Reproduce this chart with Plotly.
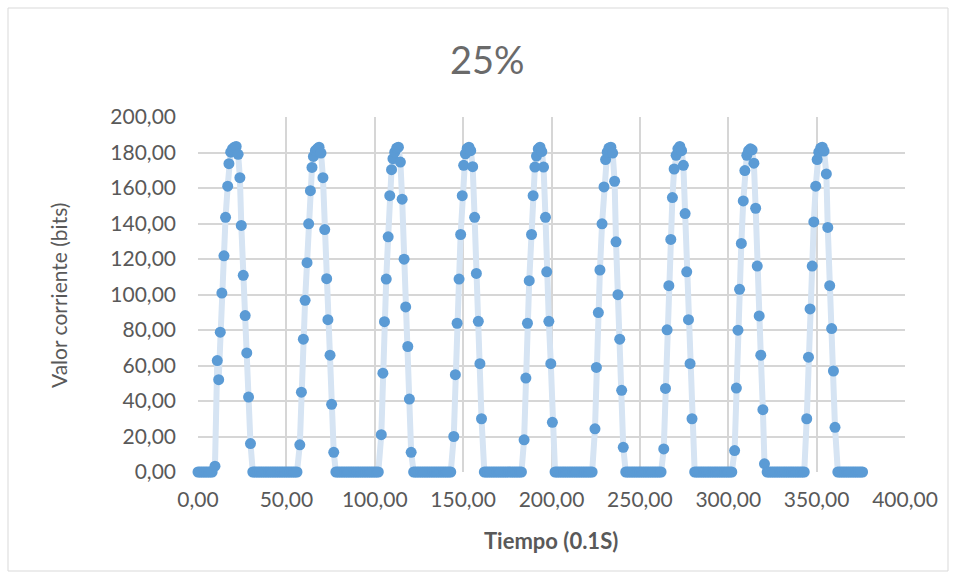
import plotly.graph_objects as go

# Ciclo 1: reposo inicial + primer pulso
t1 = [0, 1, 2, 3, 4, 5, 6, 7, 8,
      9.6, 10.9, 11.7, 12.6, 13.5, 14.7, 15.6, 16.8, 17.5, 18.5, 19.5,
      20.6, 21.6, 22.7, 23.7, 24.5, 25.6, 26.7, 27.6, 28.6, 29.7]
v1 = [0, 0, 0, 0, 0, 0, 0, 0, 0,
      3.3, 62.8, 52.0, 78.8, 100.8, 121.8, 143.5, 161.0, 173.7, 180.2, 182.0,
      183.0, 183.4, 179.0, 165.8, 138.9, 110.8, 88.1, 67.1, 42.2, 16.0]

# Ciclo 2
t2 = [31, 32, 33, 34, 35, 36, 37, 38, 39, 40, 41, 42, 43, 44, 45, 46, 47, 48,
      49, 50, 51, 52, 53, 54, 55, 56,
      57.6, 58.5, 59.6, 60.6, 61.7, 62.6, 63.6, 64.5, 65.3, 66.4,
      67.4, 68.5, 69.6, 70.7, 71.7, 72.8, 73.5, 74.7, 75.6, 76.8]
v2 = [0, 0, 0, 0, 0, 0, 0, 0, 0, 0, 0, 0, 0, 0, 0, 0, 0, 0,
      0, 0, 0, 0, 0, 0, 0, 0,
      15.3, 45.0, 74.8, 96.7, 117.9, 139.8, 158.5, 171.6, 177.8, 181.0,
      182.1, 183.0, 179.7, 165.8, 136.6, 108.9, 85.8, 65.8, 38.1, 11.1]

# Ciclo 3
t3 = [78, 79, 80, 81, 82, 83, 84, 85, 86, 87, 88, 89, 90, 91, 92, 93, 94, 95,
      96, 97, 98, 99, 100, 101, 102,
      103.7, 104.6, 105.5, 106.5, 107.6, 108.5, 109.5, 110.3, 111.3,
      112.4, 113.4, 114.5, 115.5, 116.6, 117.5, 118.7, 119.6, 120.6]
v3 = [0, 0, 0, 0, 0, 0, 0, 0, 0, 0, 0, 0, 0, 0, 0, 0, 0, 0,
      0, 0, 0, 0, 0, 0, 0,
      21.0, 55.7, 84.7, 108.7, 132.5, 155.7, 170.3, 176.5, 180.2,
      182.5, 183.0, 174.6, 153.7, 119.9, 93.0, 70.7, 41.1, 11.1]

# Ciclo 4
t4 = [122, 123, 124, 125, 126, 127, 128, 129, 130, 131, 132, 133, 134, 135,
      136, 137, 138, 139, 140, 141, 142, 143,
      144.7, 145.6, 146.6, 147.7, 148.6, 149.5, 150.3, 151.3, 152.3,
      153.3, 154.3, 155.4, 156.5, 157.5, 158.6, 159.5, 160.4]
v4 = [0, 0, 0, 0, 0, 0, 0, 0, 0, 0, 0, 0, 0, 0,
      0, 0, 0, 0, 0, 0, 0, 0,
      20.0, 54.8, 83.8, 108.7, 133.8, 155.7, 172.8, 179.3, 182.3,
      183.0, 181.0, 172.0, 143.5, 111.9, 84.9, 61.0, 30.0]

# Ciclo 5
t5 = [162, 163, 164, 165, 166, 167, 168, 169, 170, 171, 172, 173, 174, 175,
      176, 177, 178, 179, 180, 181, 182, 183,
      184.5, 185.5, 186.4, 187.4, 188.7, 189.6, 190.6, 191.5, 192.5,
      193.5, 194.5, 195.5, 196.6, 197.3, 198.5, 199.6, 200.5]
v5 = [0, 0, 0, 0, 0, 0, 0, 0, 0, 0, 0, 0, 0, 0,
      0, 0, 0, 0, 0, 0, 0, 0,
      18.1, 52.9, 83.8, 107.8, 133.8, 155.7, 171.8, 178.0, 182.0,
      183.0, 180.5, 171.8, 143.5, 112.8, 84.9, 61.0, 28.0]

# Ciclo 6
t6 = [202, 203, 204, 205, 206, 207, 208, 209, 210, 211, 212, 213, 214, 215,
      216, 217, 218, 219, 220, 221, 222, 223,
      224.6, 225.4, 226.5, 227.4, 228.6, 229.7, 230.6, 231.5, 232.5,
      233.6, 234.6, 235.7, 236.5, 237.6, 238.6, 239.7, 240.6]
v6 = [0, 0, 0, 0, 0, 0, 0, 0, 0, 0, 0, 0, 0, 0,
      0, 0, 0, 0, 0, 0, 0, 0,
      24.3, 58.9, 89.8, 113.8, 139.8, 160.6, 176.0, 180.2, 182.5,
      183.0, 179.7, 163.8, 129.7, 99.9, 74.8, 46.0, 13.9]

# Ciclo 7
t7 = [242, 243, 244, 245, 246, 247, 248, 249, 250, 251, 252, 253, 254, 255,
      256, 257, 258, 259, 260, 261, 262,
      263.5, 264.5, 265.4, 266.4, 267.5, 268.4, 269.4, 270.5, 271.5,
      272.6, 273.6, 274.6, 275.6, 276.5, 277.5, 278.4, 279.5]
v7 = [0, 0, 0, 0, 0, 0, 0, 0, 0, 0, 0, 0, 0, 0,
      0, 0, 0, 0, 0, 0, 0,
      13.0, 47.1, 80.1, 105.0, 131.0, 154.6, 170.7, 178.4, 182.1,
      183.4, 181.0, 172.8, 145.6, 112.8, 85.8, 61.0, 30.0]

# Ciclo 8
t8 = [281, 282, 283, 284, 285, 286, 287, 288, 289, 290, 291, 292, 293, 294,
      295, 296, 297, 298, 299, 300, 301, 302,
      303.6, 304.6, 305.5, 306.4, 307.4, 308.5, 309.4, 310.5, 311.5,
      312.5, 313.5, 314.5, 315.5, 316.4, 317.5, 318.4, 319.6, 320.5]
v8 = [0, 0, 0, 0, 0, 0, 0, 0, 0, 0, 0, 0, 0, 0,
      0, 0, 0, 0, 0, 0, 0, 0,
      12.1, 47.3, 79.9, 102.9, 128.8, 152.7, 169.8, 178.4, 181.0,
      182.1, 181.5, 174.0, 148.6, 116.0, 87.9, 65.8, 35.1, 4.6]

# Ciclo 9
t9 = [322, 323, 324, 325, 326, 327, 328, 329, 330, 331, 332, 333, 334, 335,
      336, 337, 338, 339, 340, 341, 342, 343,
      344.4, 345.4, 346.3, 347.5, 348.4, 349.5, 350.3, 351.2, 352.3,
      353.2, 354.2, 355.5, 356.3, 357.4, 358.5, 359.5, 360.4]
v9 = [0, 0, 0, 0, 0, 0, 0, 0, 0, 0, 0, 0, 0, 0,
      0, 0, 0, 0, 0, 0, 0, 0,
      30.0, 64.7, 91.9, 116.0, 140.9, 161.0, 176.0, 180.2, 182.5,
      183.0, 180.8, 167.9, 137.8, 105.0, 80.8, 56.9, 25.2]

# Reposo final
t10 = [362, 363, 364, 365, 366, 367, 368, 369, 370, 371, 372, 373, 374, 375, 376]
v10 = [0, 0, 0, 0, 0, 0, 0, 0, 0, 0, 0, 0, 0, 0, 0]

titulo = "25%"
titulo_x = "Tiempo (0.1S)"
titulo_y = "Valor corriente (bits)"

tiempo = t1 + t2 + t3 + t4 + t5 + t6 + t7 + t8 + t9 + t10
corriente = v1 + v2 + v3 + v4 + v5 + v6 + v7 + v8 + v9 + v10

FONT = "Lato, 'Open Sans', sans-serif"
GRIS = "#595959"
GRIS_TITULO = "#6a6a6a"
REJILLA = "#d6d6d6"

fig = go.Figure(
    go.Scatter(
        x=tiempo,
        y=corriente,
        mode="lines+markers",
        line=dict(color="#d6e4f3", width=6),
        marker=dict(color="#5b9bd5", size=11),
        cliponaxis=False,
        showlegend=False,
    )
)

W, H = 956, 579
ML, MR, MT, MB = 198, 51, 117, 107
pw, ph = W - ML - MR, H - MT - MB


def px_x(p):
    return (p - ML) / pw


def px_y(p):
    return (H - MB - p) / ph


fig.update_layout(
    width=W,
    height=H,
    margin=dict(l=ML, r=MR, t=MT, b=MB, pad=0),
    paper_bgcolor="white",
    plot_bgcolor="white",
    separators=",.",
    font=dict(family=FONT, color=GRIS, size=21),
    xaxis=dict(
        range=[0, 400],
        dtick=50,
        tick0=0,
        tickformat=".2f",
        showgrid=True,
        gridcolor=REJILLA,
        gridwidth=1.5,
        zeroline=False,
        showline=False,
        ticks="",
        ticklabelstandoff=13,
        tickfont=dict(size=21, color=GRIS, family=FONT),
    ),
    yaxis=dict(
        range=[0, 200],
        dtick=20,
        tick0=0,
        tickformat=".2f",
        showgrid=True,
        gridcolor=REJILLA,
        gridwidth=1.5,
        zeroline=False,
        showline=False,
        ticks="",
        ticklabelstandoff=21,
        tickfont=dict(size=21, color=GRIS, family=FONT),
    ),
    annotations=[
        dict(text=titulo, xref="paper", yref="paper",
             x=px_x(487), y=px_y(59), xanchor="center", yanchor="middle",
             showarrow=False, font=dict(size=38, color=GRIS_TITULO, family=FONT)),
        dict(text=f"<b>{titulo_x}</b>", xref="paper", yref="paper",
             x=px_x(551), y=px_y(540), xanchor="center", yanchor="middle",
             showarrow=False, font=dict(size=22, color=GRIS, family=FONT)),
        dict(text=titulo_y, xref="paper", yref="paper", textangle=-90,
             x=px_x(58), y=px_y(296), xanchor="center", yanchor="middle",
             showarrow=False, font=dict(size=21, color=GRIS, family=FONT)),
    ],
    shapes=[
        dict(type="rect", xref="paper", yref="paper",
             x0=px_x(8), x1=px_x(948), y0=px_y(571), y1=px_y(8),
             line=dict(color="#d9d9d9", width=1), fillcolor="rgba(0,0,0,0)",
             layer="below"),
    ],
)

fig.write_html("out.html")
